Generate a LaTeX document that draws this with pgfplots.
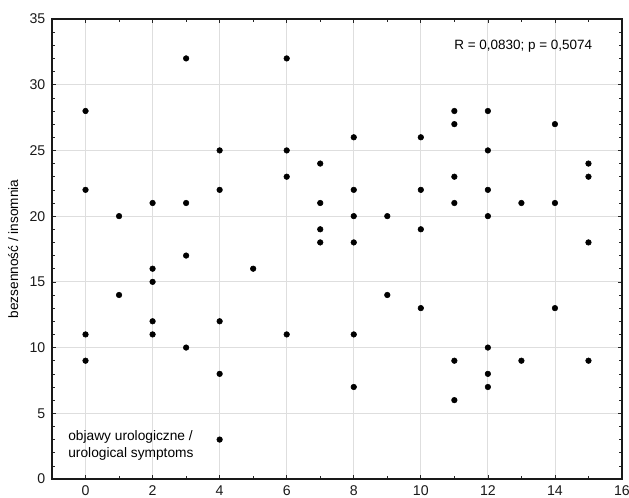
\documentclass[border=0pt]{standalone}
\usepackage{pgfplots}
\pgfplotsset{compat=1.18}
\usepackage{pgfplotstable}
\usetikzlibrary{calc}
\usepackage{fontspec}
\setmainfont{Liberation Sans}
\pgfplotstableread{
x y
0 28
0 22
0 11
0 9
1 20
1 14
2 21
2 16
2 15
2 12
2 11
3 32
3 21
3 17
3 10
4 25
4 22
4 12
4 8
4 3
5 16
6 32
6 25
6 23
6 11
7 24
7 21
7 19
7 18
8 26
8 22
8 20
8 18
8 11
8 7
9 20
9 14
10 26
10 22
10 19
10 13
11 28
11 27
11 23
11 21
11 9
11 6
12 28
12 25
12 22
12 20
12 10
12 8
12 7
13 21
13 9
14 27
14 21
14 13
15 24
15 23
15 18
15 9
}\datatable
\begin{document}
\begin{tikzpicture}
\begin{axis}[
  scale only axis, width=427.5pt, height=345pt,
  xmin=-1, xmax=16, ymin=0, ymax=35,
  xtick={0,2,...,16}, ytick={0,5,...,35},
  minor x tick num=1, minor y tick num=4,
  grid=major, major grid style={black!13, line width=0.6pt},
  axis line style={black!90, line width=0.9pt},
  tick style={black!85, line width=0.5pt},
  major tick length=3pt, minor tick length=2pt,
  tick align=inside,
  /pgf/number format/assume math mode=true,
  ticklabel style={font=\fontsize{10.6}{12}\selectfont, text=black!90},
  xticklabel style={yshift=-1.2pt},
  yticklabel style={xshift=-1.5pt},
  ylabel={bezsenność / insomnia},
  ylabel style={font=\fontsize{10.2}{12}\selectfont, at={(axis description cs:-0.068,0.5)}, anchor=center},
  clip=false,
]
\addplot[only marks, mark=*, mark size=2.1pt, black] table[x=x,y=y] {\datatable};
\node[anchor=east, font=\fontsize{10.1}{12}\selectfont] at (axis cs:15.25,32.95) {R = 0,0830; p = 0,5074};
\node[anchor=west, align=left, font=\fontsize{10.3}{12.6}\selectfont, inner sep=0pt] at (axis cs:-0.52,2.55) {objawy urologiczne /\\urological symptoms};
\end{axis}
\pgfresetboundingbox
\path[use as bounding box] ($(current axis.south west)+(-39pt,-14.25pt)$) rectangle ($(current axis.north east)+(5.25pt,14.25pt)$);
\end{tikzpicture}
\end{document}
